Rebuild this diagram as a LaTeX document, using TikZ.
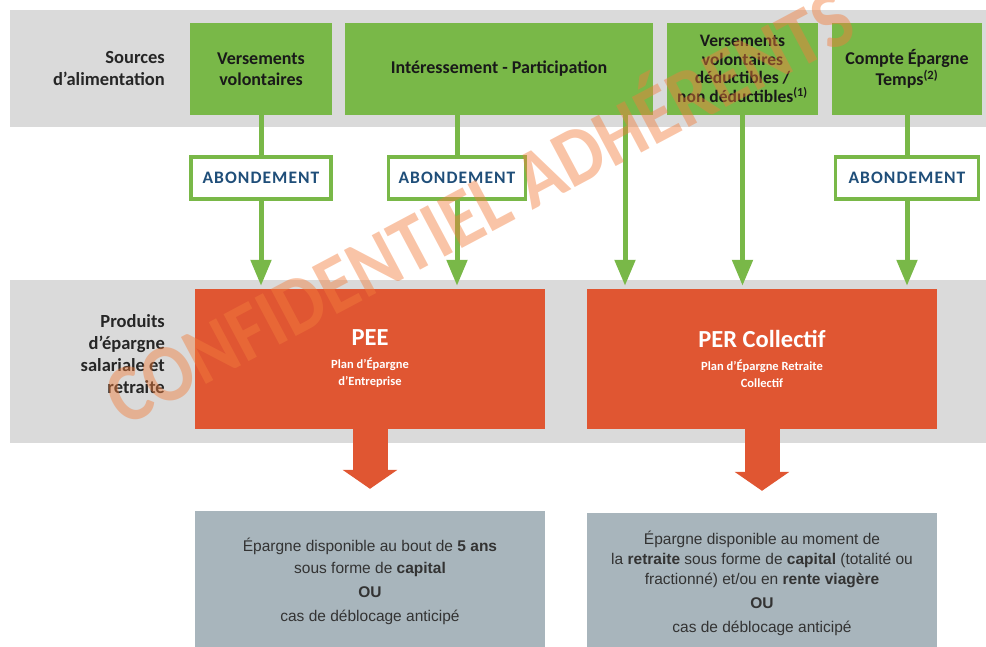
\documentclass[tikz,border=0pt]{standalone}
\usepackage{fontspec}
\setmainfont{Carlito}
\newfontfamily\bodyfont{Liberation Sans}
\usepackage{tikz}
\usetikzlibrary{positioning,arrows.meta}

\definecolor{bandgray}{RGB}{218,218,218}
\definecolor{srcgreen}{RGB}{121,184,72}
\definecolor{prodorange}{RGB}{224,86,50}
\definecolor{outgray}{RGB}{168,181,188}
\definecolor{abdblue}{RGB}{31,78,121}
\definecolor{markorange}{RGB}{242,125,60}

\begin{document}
\begin{tikzpicture}[x=1pt,y=-1pt,every node/.style={inner sep=0pt,align=center},
	src/.style={fill=srcgreen,minimum height=92pt,text=black!90,font=\fontsize{18}{21}\selectfont\bfseries},
	abd/.style={draw=srcgreen,line width=3.5pt,fill=white,minimum height=42pt,text=abdblue,font=\fontsize{17.5}{20}\selectfont\bfseries\addfontfeature{LetterSpace=6}},
	prod/.style={fill=prodorange,minimum width=350pt,minimum height=140pt,text=white,font=\fontsize{12.5}{17}\selectfont\bfseries},
	outbox/.style={fill=outgray,minimum width=350pt,minimum height=140pt,text=black!80,font=\bodyfont\fontsize{15.5}{22}\selectfont},
	rowlabel/.style={anchor=east,align=right,text=black!85,font=\fontsize{18.5}{22}\selectfont\bfseries},
	feed/.style={draw=srcgreen,line width=5pt},
	feedarrow/.style={feed,-{Triangle[width=20pt,length=26pt]},shorten >=3pt},
	bigarrow/.style={draw=prodorange,line width=35pt,-{Triangle[width=54pt,length=19pt]},shorten >=22pt},
	watermark/.style={rotate=28,xscale=0.9,text=markorange,text opacity=0.45,font=\fontsize{82}{82}\selectfont\bfseries}]
	\useasboundingbox (0,0) rectangle (986,646);

	%bands
	\fill[bandgray] (10,10) rectangle (986,127);
	\fill[bandgray] (10,280) rectangle (986,443);

	%row labels
	\node[rowlabel] (lsrc) at (165,68) {Sources\\d’alimentation};
	\node[rowlabel] (lprod) at (165,354) {Produits\\d’épargne\\salariale et\\retraite};

	%source nodes
	\node[src,minimum width=142pt] (src1) at (261,69) {Versements\\volontaires};
	\node[src,minimum width=308pt] (src2) at (499,69) {Intéressement - Participation};
	\node[src,minimum width=151pt,font=\fontsize{17.5}{18.5}\selectfont\bfseries] (src3) at (742.5,69) {Versements\\volontaires\\déductibles /\\non déductibles\textsuperscript{(1)}};
	\node[src,minimum width=150pt] (src4) at (907,69) {Compte Épargne\\Temps\textsuperscript{(2)}};
	\coordinate (drop2) at (625,115);

	%abondement nodes
	\node[abd,minimum width=140pt] (abd1) at (261,178) {ABONDEMENT};
	\node[abd,minimum width=137pt] (abd2) at (457,178) {ABONDEMENT};
	\node[abd,minimum width=143pt] (abd3) at (907,178) {ABONDEMENT};

	%product nodes
	\node[prod] (pee) at (370,359) {\fontsize{24.5}{27}\selectfont PEE\\[6pt]
		Plan d’Épargne\\d’Entreprise};
	\node[prod] (per) at (762,359) {\fontsize{24.5}{27}\selectfont PER Collectif\\[6pt]
		Plan d’Épargne Retraite\\Collectif};

	%outcome nodes
	\node[outbox] (out1) at (370,581) {Épargne disponible au bout de \textbf{5 ans}\\
		sous forme de \textbf{capital}\\[2pt] \textbf{OU}\\[2pt] cas de déblocage anticipé};
	\node[outbox,font=\bodyfont\fontsize{15.5}{20}\selectfont] (out2) at (762,583) {Épargne disponible au moment de\\
		la \textbf{retraite} sous forme de \textbf{capital} (totalité ou\\
		fractionné) et/ou en \textbf{rente viagère}\\[4pt] \textbf{OU}\\[4pt] cas de déblocage anticipé};

	%edges
	\draw[feed] (src1) -- (abd1);
	\draw[feedarrow] (abd1) -- (abd1 |- pee.north);
	\draw[feed] (abd2 |- src2.south) -- (abd2);
	\draw[feedarrow] (abd2) -- (abd2 |- pee.north);
	\draw[feedarrow] (drop2) -- (drop2 |- per.north);
	\draw[feedarrow] (src3.south) -- (src3.south |- per.north);
	\draw[feed] (src4) -- (abd3);
	\draw[feedarrow] (abd3) -- (abd3 |- per.north);
	\draw[bigarrow] (pee) -- (pee |- out1.north);
	\draw[bigarrow] (per) -- (per |- out2.north);

	%watermark
	\node[watermark] (mark) at (476,202) {CONFIDENTIEL ADHÉRENTS};
\end{tikzpicture}
\end{document}
